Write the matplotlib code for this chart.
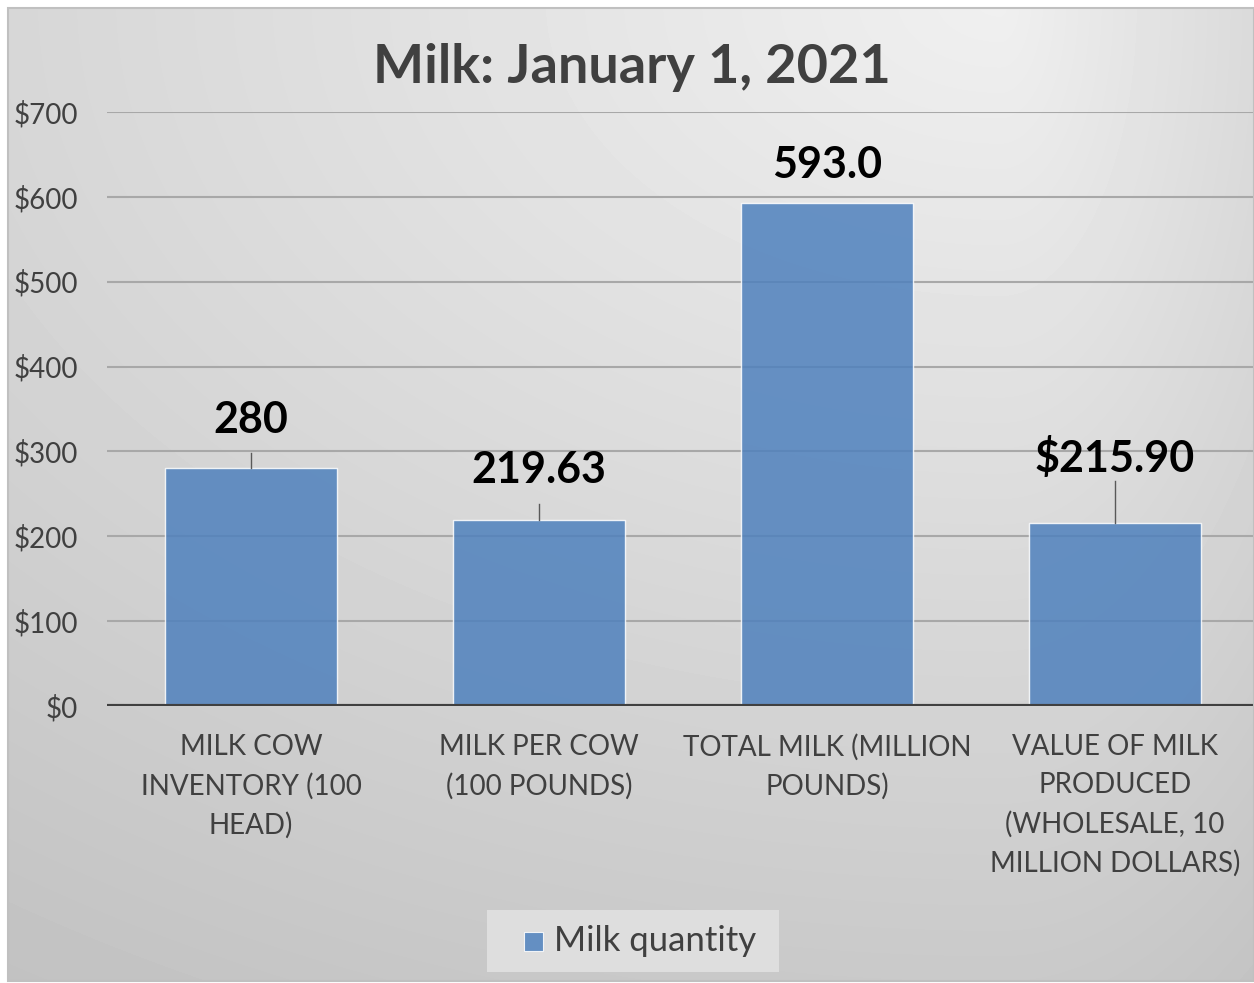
import numpy as np
import matplotlib.pyplot as plt
from matplotlib.patches import Rectangle
from matplotlib.ticker import FuncFormatter

plt.rcParams['font.family'] = ['Lato', 'DejaVu Sans']

categories = ["MILK COW\nINVENTORY (100\nHEAD)",
              "MILK PER COW\n(100 POUNDS)",
              "TOTAL MILK (MILLION\nPOUNDS)",
              "VALUE OF MILK\nPRODUCED\n(WHOLESALE, 10\nMILLION DOLLARS)"]
values = [280, 219.63, 593.0, 215.90]
value_labels = ["280", "219.63", "593.0", "$215.90"]
series_name = "Milk quantity"
title = "Milk: January 1, 2021"

# label placement (data units above bar top), leader line shown or not
label_offsets = [57, 58, 45, 76]
leader_gap = [39, 39, 0, 27]
show_leader = [True, True, False, True]

W, H = 1254, 983
fig = plt.figure(figsize=(W / 100, H / 100), dpi=100)

# gradient chart background
bg = fig.add_axes([8 / W, 2 / H, (W - 8) / W, 973 / H])
yy, xx = np.mgrid[8:981, 8:W]
cx = 1000
sx = np.where(xx < cx, 1000.0, 300.0)
r = np.hypot((xx - cx) / sx, yy / 650.0)
shade = np.clip(0.94 - 0.1 * r, 0, 1)
bg.imshow(shade, cmap='gray', vmin=0, vmax=1, aspect='auto')
bg.axis('off')
fig.patches.append(Rectangle((8 / W, 2 / H), (W - 8) / W, 973 / H,
                             transform=fig.transFigure, fill=False,
                             edgecolor='#c0c0c0', lw=1.5))

bar_color = '#4f81bd'
ax = fig.add_axes([107 / W, 1 - 706 / H, 1152 / W, 594 / H])
ax.patch.set_alpha(0)
x = np.arange(len(values))
ax.bar(x, values, width=0.6, color=bar_color, alpha=0.85,
       edgecolor=(1, 1, 1, 0.5), lw=1, zorder=2)
ax.set_xlim(-0.5, len(values) - 0.5)
ax.set_ylim(0, 700)
ax.set_yticks(range(0, 701, 100))
ax.yaxis.set_major_formatter(FuncFormatter(lambda v, p: f"${v:,.0f}"))
ax.grid(axis='y', color='#a8a8a8', lw=1.5, zorder=0)
ax.set_axisbelow(True)
ax.axhline(0, color='#404040', lw=3, zorder=3)
for s in ax.spines.values():
    s.set_visible(False)
ax.set_xticks(x)
ax.set_xticklabels(categories)
ax.tick_params(axis='y', length=0, pad=21, labelsize=20, labelcolor='#404040')
ax.tick_params(axis='x', length=0, pad=20, labelsize=20, labelcolor='#404040')
for lab in ax.get_xticklabels():
    lab.set_linespacing(1.58)

for i, v in enumerate(values):
    ly = v + label_offsets[i]
    ax.text(i, ly, value_labels[i], ha='center', va='center',
            fontsize=31, fontweight='bold', color='black', zorder=4)
    if show_leader[i]:
        ax.plot([i, i], [v, ly - leader_gap[i]], color='#595959', lw=1, zorder=4)

fig.text(632 / W, 1 - 67 / H, title, ha='center', va='center',
         fontsize=39, fontweight='bold', color='#404040')

# legend box drawn in figure pixels
def fx(px):
    return px / W

def fy(py):
    return 1 - py / H

fig.patches.append(Rectangle((fx(487), fy(972)), 292 / W, 62 / H,
                             transform=fig.transFigure, facecolor='#dedede',
                             edgecolor='none'))
fig.patches.append(Rectangle((fx(524), fy(951)), 19 / W, 19 / H,
                             transform=fig.transFigure, facecolor=bar_color,
                             alpha=0.85, edgecolor='white', lw=0.8))
fig.text(fx(554), fy(941), series_name, ha='left', va='center',
         fontsize=25, color='#404040')

fig.savefig('out.png', dpi=100)
